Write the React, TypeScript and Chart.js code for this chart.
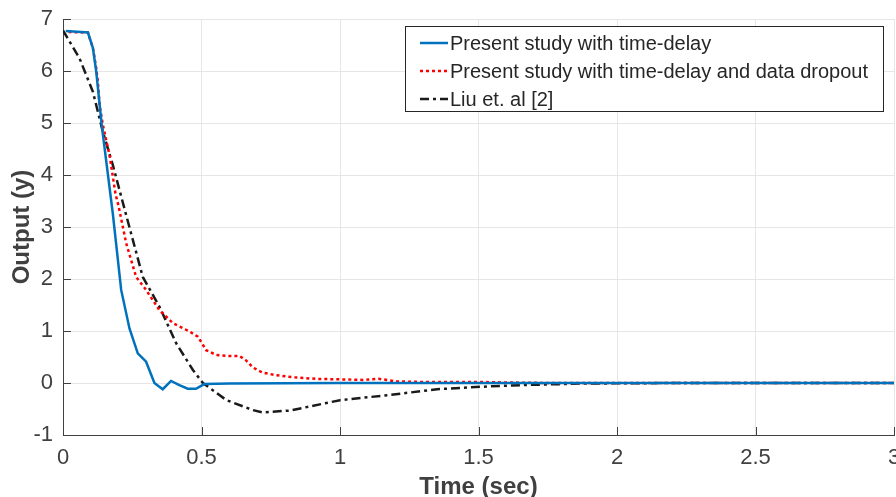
import React, { useEffect, useRef } from "react";
import { Chart, registerables } from "chart.js";

Chart.register(...registerables);

const seriesLabels = [
  "Present study with time-delay",
  "Present study with time-delay and data dropout",
  "Liu et. al [2]",
];

const blueT = [0.01, 0.09, 0.108, 0.12, 0.14, 0.18, 0.21, 0.24, 0.27, 0.3, 0.33, 0.36, 0.39, 0.42, 0.45, 0.48, 0.51, 0.6, 1.0, 2.0, 3.0];
const blueY = [6.77, 6.74, 6.44, 5.99, 4.95, 3.25, 1.79, 1.05, 0.57, 0.41, 0.0, -0.12, 0.04, -0.04, -0.11, -0.11, -0.02, -0.01, 0, 0, 0];

const redT = [0.02, 0.09, 0.108, 0.12, 0.126, 0.132, 0.144, 0.168, 0.19, 0.2, 0.228, 0.264, 0.3, 0.348, 0.397, 0.457, 0.487, 0.517, 0.553, 0.6, 0.637, 0.66, 0.685, 0.72, 0.77, 0.83, 0.914, 1.0, 1.08, 1.14, 1.18, 1.2, 1.3, 1.5, 1.6, 1.75, 2.0, 3.0];
const redY = [6.75, 6.74, 6.44, 6.05, 5.79, 5.35, 4.96, 4.38, 3.62, 3.42, 2.69, 2.04, 1.79, 1.4, 1.15, 0.99, 0.89, 0.63, 0.54, 0.52, 0.52, 0.44, 0.3, 0.2, 0.15, 0.11, 0.08, 0.07, 0.06, 0.08, 0.05, 0.03, 0.02, 0.02, 0.01, 0.0, 0, 0];

const blackT = [0, 0.06, 0.108, 0.144, 0.18, 0.228, 0.288, 0.348, 0.409, 0.469, 0.505, 0.59, 0.685, 0.72, 0.82, 1.0, 1.18, 1.35, 1.52, 1.66, 1.88, 2.2, 3.0];
const blackY = [6.78, 6.24, 5.6, 4.83, 4.19, 3.23, 2.04, 1.47, 0.76, 0.25, 0.0, -0.33, -0.52, -0.565, -0.53, -0.33, -0.23, -0.12, -0.07, -0.04, -0.01, 0, 0];

const xTitle = "Time (sec)";
const yTitle = "Output (y)";

const FONT = "'Liberation Sans', Arial, Helvetica, sans-serif";
const AXIS_COLOR = "#404040";

const toPts = (t: number[], y: number[]) => t.map((v, i) => ({ x: v, y: y[i] }));

const inwardTicks = {
  id: "inwardTicks",
  beforeDatasetsDraw(chart: any) {
    const { ctx, chartArea, scales } = chart;
    ctx.save();
    ctx.strokeStyle = AXIS_COLOR;
    ctx.lineWidth = 1;
    scales.x.ticks.forEach((t: any) => {
      const px = Math.round(scales.x.getPixelForValue(t.value)) + 0.5;
      ctx.beginPath();
      ctx.moveTo(px, chartArea.bottom);
      ctx.lineTo(px, chartArea.bottom - 8);
      ctx.stroke();
    });
    scales.y.ticks.forEach((t: any) => {
      const py = Math.round(scales.y.getPixelForValue(t.value)) + 0.5;
      ctx.beginPath();
      ctx.moveTo(chartArea.left, py);
      ctx.lineTo(chartArea.left + 8, py);
      ctx.stroke();
    });
    ctx.restore();
  },
};

const boxLegend = {
  id: "boxLegend",
  afterDraw(chart: any) {
    const { ctx } = chart;
    const x0 = 405.5, y0 = 26.5, w = 478, h = 85;
    ctx.save();
    ctx.fillStyle = "#ffffff";
    ctx.fillRect(x0, y0, w, h);
    ctx.strokeStyle = "#262626";
    ctx.lineWidth = 1;
    ctx.strokeRect(x0, y0, w, h);
    const rows = [43, 71, 99];
    chart.data.datasets.forEach((ds: any, i: number) => {
      const y = rows[i];
      ctx.beginPath();
      ctx.strokeStyle = ds.borderColor;
      ctx.lineWidth = ds.borderWidth;
      ctx.setLineDash(ds.borderDash || []);
      ctx.moveTo(420, y);
      ctx.lineTo(448, y);
      ctx.stroke();
      ctx.setLineDash([]);
      ctx.fillStyle = "#262626";
      ctx.font = `20px ${FONT}`;
      ctx.textBaseline = "middle";
      ctx.textAlign = "left";
      ctx.fillText(ds.label, 450, y + 1);
    });
    ctx.restore();
  },
};

export default function App() {
  const ref = useRef<HTMLCanvasElement | null>(null);
  useEffect(() => {
    if (!ref.current) return;
    const chart = new Chart(ref.current, {
      type: "line",
      data: {
        datasets: [
          {
            label: seriesLabels[0],
            data: toPts(blueT, blueY),
            borderColor: "#0072BD",
            borderWidth: 2.5,
            pointRadius: 0,
            tension: 0,
          },
          {
            label: seriesLabels[1],
            data: toPts(redT, redY),
            borderColor: "#FF0000",
            borderWidth: 2.5,
            borderDash: [3, 3],
            pointRadius: 0,
            tension: 0,
          },
          {
            label: seriesLabels[2],
            data: toPts(blackT, blackY),
            borderColor: "#1a1a1a",
            borderWidth: 2.5,
            borderDash: [9, 4, 3, 4],
            pointRadius: 0,
            tension: 0,
          },
        ],
      },
      options: {
        responsive: false,
        animation: false,
        layout: { padding: { top: 19, right: 2, left: 0, bottom: 0 } },
        plugins: { legend: { display: false }, tooltip: { enabled: false } },
        scales: {
          x: {
            type: "linear",
            min: 0,
            max: 3,
            afterFit: (s: any) => { s.height = 62; s.paddingRight = 0; s.paddingLeft = 0; },
            ticks: { stepSize: 0.5, padding: 10, color: AXIS_COLOR, font: { family: FONT, size: 22 }, callback: (v: any) => String(Number(v)) },
            grid: { color: "#e6e6e6", drawTicks: false },
            border: { display: true, color: AXIS_COLOR, width: 1 },
            title: { display: true, text: xTitle, color: AXIS_COLOR, font: { family: FONT, size: 24, weight: "bold", lineHeight: 0.8 }, padding: { top: 0, bottom: 0 } },
          },
          y: {
            min: -1,
            max: 7,
            afterFit: (s: any) => { s.width = 63; s.paddingTop = 0; s.paddingBottom = 0; },
            ticks: { stepSize: 1, padding: 10, color: AXIS_COLOR, font: { family: FONT, size: 22 } },
            grid: { color: "#e6e6e6", drawTicks: false },
            border: { display: true, color: AXIS_COLOR, width: 1 },
            title: { display: true, text: yTitle, color: AXIS_COLOR, font: { family: FONT, size: 24, weight: "bold", lineHeight: 1 }, padding: { top: 10, bottom: 0 } },
          },
        },
      },
      plugins: [inwardTicks, boxLegend],
    } as any);
    return () => chart.destroy();
  }, []);
  return (
    <div style={{ position: "fixed", left: 0, top: 0, width: 896, height: 497, background: "#fff" }}>
      <canvas ref={ref} width={896} height={497} style={{ display: "block" }} />
    </div>
  );
}
